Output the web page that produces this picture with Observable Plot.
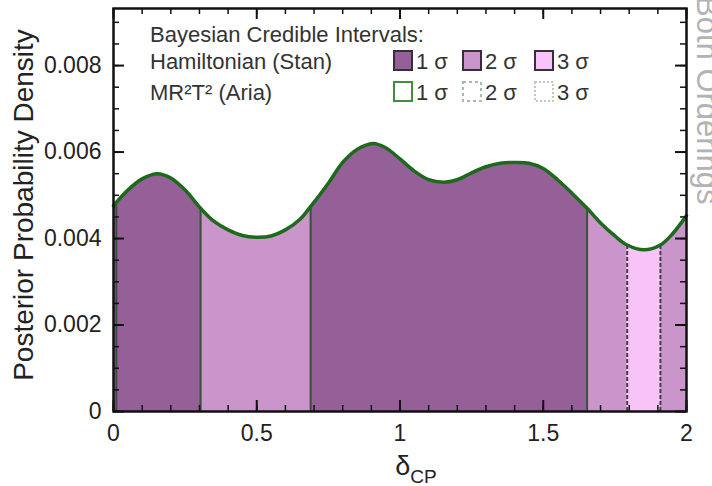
<!DOCTYPE html>
<html>
<head>
<meta charset="utf-8">
<script src="https://cdn.jsdelivr.net/npm/d3@7"></script>
<script src="https://cdn.jsdelivr.net/npm/@observablehq/plot@0.6"></script>
<style>
  html, body { margin: 0; padding: 0; background: #fff; }
  #chart svg { display: block; }
</style>
</head>
<body>
<div id="chart"></div>
<script>
// δCP grid (units of π) and posterior density along it
const deltaCP = [0, 0.05, 0.1, 0.153, 0.2, 0.25, 0.304, 0.35, 0.4, 0.45, 0.5, 0.55, 0.6, 0.65, 0.688,
  0.75, 0.8, 0.85, 0.906, 0.95, 1.0, 1.05, 1.1, 1.153, 1.2, 1.25, 1.3, 1.35, 1.409, 1.45, 1.5,
  1.55, 1.6, 1.653, 1.7, 1.75, 1.793, 1.851, 1.909, 1.95, 2.0];
const density = [0.00476, 0.00512, 0.00538, 0.00550, 0.00540, 0.00512, 0.00470, 0.00440, 0.00420, 0.00407, 0.00403,
  0.00406, 0.00420, 0.00444, 0.00474, 0.00528, 0.00576, 0.00606, 0.00620, 0.00610, 0.00584,
  0.00556, 0.00536, 0.00530, 0.00536, 0.00552, 0.00566, 0.00574, 0.00576, 0.00574, 0.00562,
  0.00536, 0.00505, 0.00470, 0.00436, 0.00406, 0.00385, 0.00374, 0.00385, 0.00410, 0.00453];

// Credible-interval bands (Hamiltonian / Stan)
const bandStart = [0, 0.304, 0.688, 1.653, 1.793, 1.909];
const bandEnd   = [0.304, 0.688, 1.653, 1.793, 1.909, 2.0];
const bandLevel = ["1 σ", "2 σ", "1 σ", "2 σ", "3 σ", "2 σ"];

// Interval edges (MR²T² / Aria): solid = 1σ, dashed = 2σ
const edgeX     = [0.01, 0.304, 0.688, 1.653, 1.793, 1.909];
const edgeY     = [0.00482, 0.00470, 0.00474, 0.00470, 0.00385, 0.00385];
const edgeStyle = ["solid", "solid", "solid", "solid", "dashed", "dashed"];

const levels = ["1 σ", "2 σ", "3 σ"];
const levelColors = ["#955f98", "#c995cb", "#f8c4f8"];

const yMajor = [0, 0.002, 0.004, 0.006, 0.008];
const yMinor = d3.range(0, 0.0093, 0.0005);
const xMajor = [0, 0.5, 1, 1.5, 2];
const xMinor = d3.range(0, 2.0001, 0.1);

const curve = deltaCP.map((x, i) => ({x, d: density[i]}));
const bandPts = [];
bandStart.forEach((lo, b) => {
  curve.filter(p => p.x >= lo - 1e-9 && p.x <= bandEnd[b] + 1e-9)
    .forEach(p => bandPts.push({...p, band: b, level: bandLevel[b]}));
});
const edges = edgeX.map((x, i) => ({x, d: edgeY[i], style: edgeStyle[i]}));

const W = 712, H = 486, mL = 113, mR = 26, mT = 8, mB = 75;
const innerW = W - mL - mR, innerH = H - mT - mB;
const major = 11, minor = 6;
const axisColor = "#111";

const plot = Plot.plot({
  width: W, height: H,
  marginLeft: mL, marginRight: mR, marginTop: mT, marginBottom: mB,
  x: {domain: [0, 2]},
  y: {domain: [0, 0.00932]},
  color: {domain: levels, range: levelColors},
  style: {fontFamily: "'Liberation Sans', Arial, sans-serif", fontSize: "23px", color: "#222", background: "#fff"},
  marks: [
    Plot.area(bandPts, {x1: "x", y1: 0, y2: "d", z: "band", fill: "level", curve: "catmull-rom"}),
    Plot.ruleX(edges.filter(e => e.style === "solid"), {x: "x", y1: 0, y2: "d", stroke: "#3b4f3b", strokeWidth: 2}),
    Plot.ruleX(edges.filter(e => e.style === "dashed"), {x: "x", y1: 0, y2: "d", stroke: "#4a3d4c", strokeWidth: 2, strokeDasharray: "4,2"}),
    Plot.lineY(curve, {x: "x", y: "d", stroke: "#1d6a1d", strokeWidth: 3.5, curve: "catmull-rom"}),
    // inward ticks on all four sides
    Plot.tickY(yMajor, {y: d => d, insetRight: innerW - major, stroke: axisColor, strokeWidth: 2}),
    Plot.tickY(yMinor, {y: d => d, insetRight: innerW - minor, stroke: axisColor, strokeWidth: 1.5}),
    Plot.tickY(yMajor, {y: d => d, insetLeft: innerW - major, stroke: axisColor, strokeWidth: 2}),
    Plot.tickY(yMinor, {y: d => d, insetLeft: innerW - minor, stroke: axisColor, strokeWidth: 1.5}),
    Plot.tickX(xMajor, {x: d => d, insetTop: innerH - major, stroke: axisColor, strokeWidth: 2}),
    Plot.tickX(xMinor, {x: d => d, insetTop: innerH - minor, stroke: axisColor, strokeWidth: 1.5}),
    Plot.tickX(xMajor, {x: d => d, insetBottom: innerH - major, stroke: axisColor, strokeWidth: 2}),
    Plot.tickX(xMinor, {x: d => d, insetBottom: innerH - minor, stroke: axisColor, strokeWidth: 1.5}),
    Plot.frame({stroke: axisColor, strokeWidth: 2.5}),
    Plot.axisY({ticks: yMajor, tickSize: 0, tickPadding: 12, label: null,
      tickFormat: d => d === 0 ? "0" : d.toFixed(3)}),
    Plot.axisX({ticks: xMajor, tickSize: 0, tickPadding: 13, label: null,
      tickFormat: d => String(d)})
  ]
});

const svg = d3.select(plot);
const font = "'Liberation Sans', Arial, sans-serif";

// axis titles
svg.append("text")
  .attr("transform", "translate(33,205) rotate(-90)")
  .attr("text-anchor", "middle")
  .attr("font-family", font).attr("font-size", 28).attr("fill", "#222")
  .text("Posterior Probability Density");

const xt = svg.append("text")
  .attr("x", 416).attr("y", 475)
  .attr("text-anchor", "middle")
  .attr("font-family", font).attr("font-size", 27).attr("fill", "#222");
xt.append("tspan").text("δ");
xt.append("tspan").attr("font-size", 19).attr("dy", 8).text("CP");

// side note
svg.append("text")
  .attr("transform", "translate(697,-4) rotate(90)")
  .attr("text-anchor", "start")
  .attr("font-family", font).attr("font-size", 31).attr("fill", "#b3b3b3")
  .text("Both Orderings");

// legend
const lg = svg.append("g").attr("text-anchor", "start")
  .attr("font-family", font).attr("font-size", 22).attr("fill", "#333");
lg.append("text").attr("x", 150).attr("y", 42).text("Bayesian Credible Intervals:");
lg.append("text").attr("x", 150).attr("y", 69).text("Hamiltonian (Stan)");
lg.append("text").attr("x", 150).attr("y", 100).text("MR²T² (Aria)");

const swX = [394, 463, 535];
levels.forEach((lv, i) => {
  lg.append("rect").attr("x", swX[i]).attr("y", 51).attr("width", 18).attr("height", 19)
    .attr("fill", levelColors[i]).attr("stroke", "#3a2c3c").attr("stroke-width", 2);
  lg.append("text").attr("x", swX[i] + 22).attr("y", 69).text(lv);
});
const outline = [
  {stroke: "#3f8f3f", dash: null},
  {stroke: "#a6bca6", dash: "3,3"},
  {stroke: "#bccbbc", dash: "2,2"}
];
levels.forEach((lv, i) => {
  lg.append("rect").attr("x", swX[i]).attr("y", 82).attr("width", 18).attr("height", 19)
    .attr("fill", "#fff").attr("stroke", outline[i].stroke).attr("stroke-width", 2)
    .attr("stroke-dasharray", outline[i].dash);
  lg.append("text").attr("x", swX[i] + 22).attr("y", 100).text(lv);
});

document.getElementById("chart").append(plot);
</script>
</body>
</html>
